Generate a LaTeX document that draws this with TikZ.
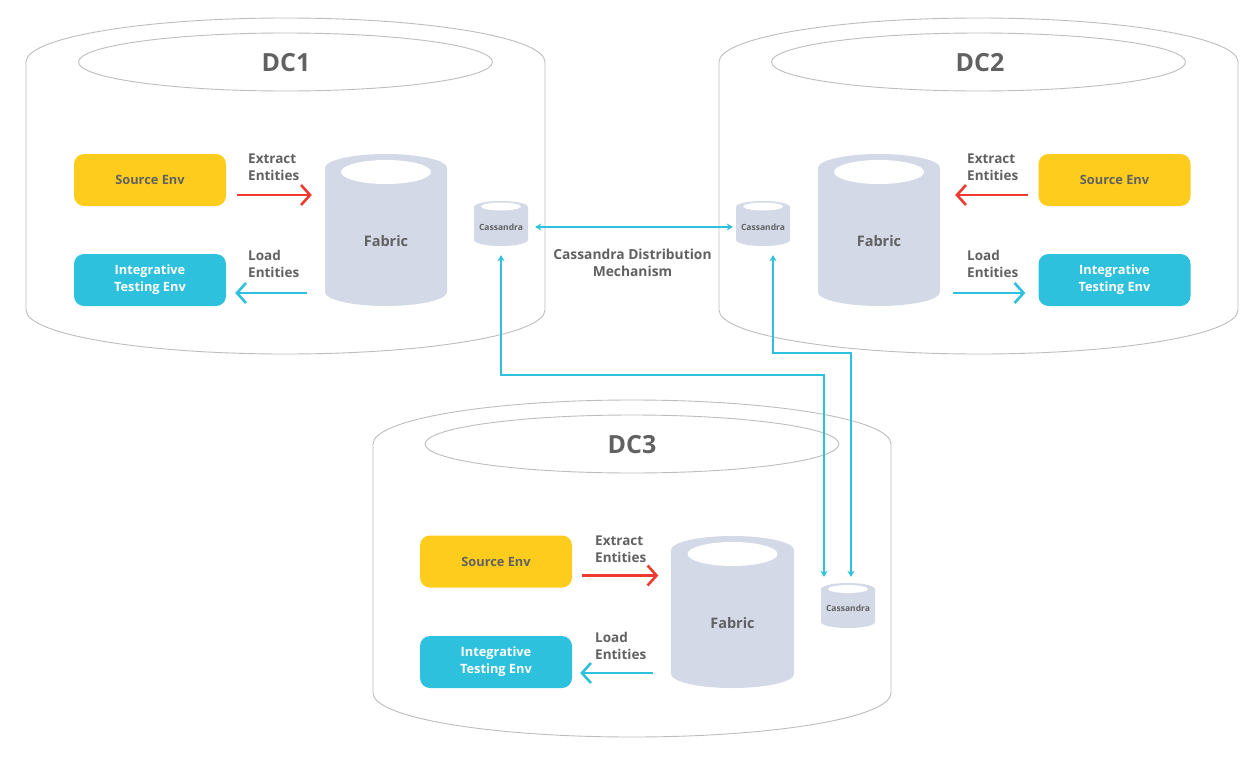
\documentclass[tikz,border=0pt]{standalone}
\usepackage{fontspec}
\setmainfont{Open Sans}
\usetikzlibrary{arrows.meta}
\definecolor{outl}{HTML}{BDBDBD}
\definecolor{txtgray}{HTML}{616161}
\definecolor{yel}{HTML}{FECC1C}
\definecolor{cya}{HTML}{2DC1DD}
\definecolor{fab}{HTML}{D4D9E8}
\definecolor{arrred}{HTML}{EE3B31}
\newcommand\dcshape[5]{%
  \draw[dcline] (#1-#4,#3) -- (#1-#4,#2) arc[start angle=180,end angle=0,x radius=#4,y radius=44] -- (#1+#4,#3) arc[start angle=0,end angle=-180,x radius=#4,y radius=44];
  \draw[dcline] (#1,#2) ellipse[x radius=#5,y radius=29];}
\newcommand\dbcyl[8]{%
  \fill[fab] (#1-#4,#2) -- (#1-#4,#3) arc[start angle=180,end angle=360,x radius=#4,y radius=#5] -- (#1+#4,#2) arc[start angle=0,end angle=180,x radius=#4,y radius=#5] -- cycle;
  \fill[white] (#1,#8) ellipse[x radius=#6,y radius=#7];}
\tikzset{
  dcline/.style={draw=outl, line width=0.9pt},
  dclbl/.style={text=txtgray, font=\bfseries\fontsize{25}{30}\selectfont, inner sep=0pt},
  envbox/.style={rounded corners=10pt, minimum width=152pt, minimum height=52pt, inner sep=0pt, align=center, font=\bfseries\fontsize{12.8}{17}\selectfont},
  srcbox/.style={envbox, fill=yel, text=txtgray},
  itgbox/.style={envbox, fill=cya, text=white},
  fabnode/.style={minimum width=122pt, minimum height=120pt, inner sep=0pt, text=txtgray, font=\bfseries\fontsize{14.5}{18}\selectfont},
  casnode/.style={minimum width=54pt, minimum height=52pt, inner sep=0pt, text=txtgray, font=\bfseries\fontsize{8.5}{10}\selectfont},
  flowlbl/.style={anchor=west, align=left, text=txtgray, font=\bfseries\fontsize{13.5}{17}\selectfont, inner sep=0pt},
  midlbl/.style={align=center, text=txtgray, font=\bfseries\fontsize{13.8}{17}\selectfont, inner sep=0pt},
  redarr/.style={draw=arrred, line width=2.6pt, -{Straight Barb[length=9pt,width=20pt]}},
  cyarr/.style={draw=cya, line width=2.6pt, -{Straight Barb[length=9pt,width=20pt]}},
  cconn/.style={draw=cya, line width=1.3pt, {Stealth[length=6pt,width=7pt]}-{Stealth[length=6pt,width=7pt]}}
}
\begin{document}
\begin{tikzpicture}[x=1pt,y=1pt]
\useasboundingbox (0,0) rectangle (1250,-758);
\fill[white] (0,0) rectangle (1250,-758);

% data centre outlines
\dcshape{285.5}{-62}{-310}{259.5}{207}
\dcshape{978.5}{-62}{-310}{259.5}{207}
\dcshape{632}{-444}{-693}{259}{207}

\node[dclbl] (dc1) at (286,-63) {DC1};
\node[dclbl] (dc2) at (980,-63) {DC2};
\node[dclbl] (dc3) at (632,-445) {DC3};

% cylinders
\dbcyl{386}{-168}{-292}{61}{14}{45}{12}{-172}
\dbcyl{879}{-168}{-292}{61}{14}{45}{12}{-172}
\dbcyl{732.5}{-550}{-674}{61.5}{14}{45}{12}{-554}
\dbcyl{501}{-207}{-240}{27}{6}{20}{4}{-206.5}
\dbcyl{763}{-207}{-240}{27}{6}{20}{4}{-206.5}
\dbcyl{848}{-589}{-622}{27}{6}{20}{4}{-589}

\node[fabnode] (fab1) at (386,-241) {Fabric};
\node[fabnode] (fab2) at (879,-241) {Fabric};
\node[fabnode] (fab3) at (732.5,-623) {Fabric};
\node[casnode] (cas1) at (501,-227) {Cassandra};
\node[casnode] (cas2) at (763,-227) {Cassandra};
\node[casnode] (cas3) at (848,-608) {Cassandra};

% environment boxes
\node[srcbox] (src1) at (150,-180) {Source Env};
\node[itgbox] (itg1) at (150,-280) {Integrative\\Testing Env};
\node[srcbox] (src2) at (1114.5,-180) {Source Env};
\node[itgbox] (itg2) at (1114.5,-280) {Integrative\\Testing Env};
\node[srcbox] (src3) at (496,-561.5) {Source Env};
\node[itgbox] (itg3) at (496,-662) {Integrative\\Testing Env};

% flow labels
\node[flowlbl] (ex1) at (248,-167) {Extract\\Entities};
\node[flowlbl] (ld1) at (248,-264) {Load\\Entities};
\node[flowlbl] (ex2) at (967,-167) {Extract\\Entities};
\node[flowlbl] (ld2) at (967,-264) {Load\\Entities};
\node[flowlbl] (ex3) at (595,-549) {Extract\\Entities};
\node[flowlbl] (ld3) at (595,-646) {Load\\Entities};
\node[midlbl] (cdm) at (632.5,-263) {Cassandra Distribution\\Mechanism};

% flow arrows
\draw[redarr, shorten <=11pt, shorten >=13pt] ([yshift=-15pt]src1.east) -- ([yshift=-15pt]src1.east -| fab1.west);
\draw[cyarr, shorten <=18pt, shorten >=9pt] ([yshift=-13pt]itg1.east -| fab1.west) -- ([yshift=-13pt]itg1.east);
\draw[redarr, shorten <=10pt, shorten >=15pt] ([yshift=-15pt]src2.west) -- ([yshift=-15pt]src2.west -| fab2.east);
\draw[cyarr, shorten <=13pt, shorten >=13pt] ([yshift=-13pt]itg2.west -| fab2.east) -- ([yshift=-13pt]itg2.west);
\draw[redarr, shorten <=10pt, shorten >=13pt] ([yshift=-14pt]src3.east) -- ([yshift=-14pt]src3.east -| fab3.west);
\draw[cyarr, shorten <=18pt, shorten >=8pt] ([yshift=-11pt]itg3.east -| fab3.west) -- ([yshift=-11pt]itg3.east);

% cassandra replication
\coordinate (j1) at (824,-375);
\coordinate (j2) at (851,-353);
\draw[cconn, shorten <=7pt, shorten >=3pt] (cas1.east) -- (cas2.west);
\draw[cconn, shorten <=2pt, shorten >=5pt] (cas1.south) |- (j1) -- (j1 |- cas3.north);
\draw[cconn, shorten <=2pt, shorten >=5pt] ([xshift=10pt]cas2.south) |- (j2) -- (j2 |- cas3.north);
\end{tikzpicture}
\end{document}
